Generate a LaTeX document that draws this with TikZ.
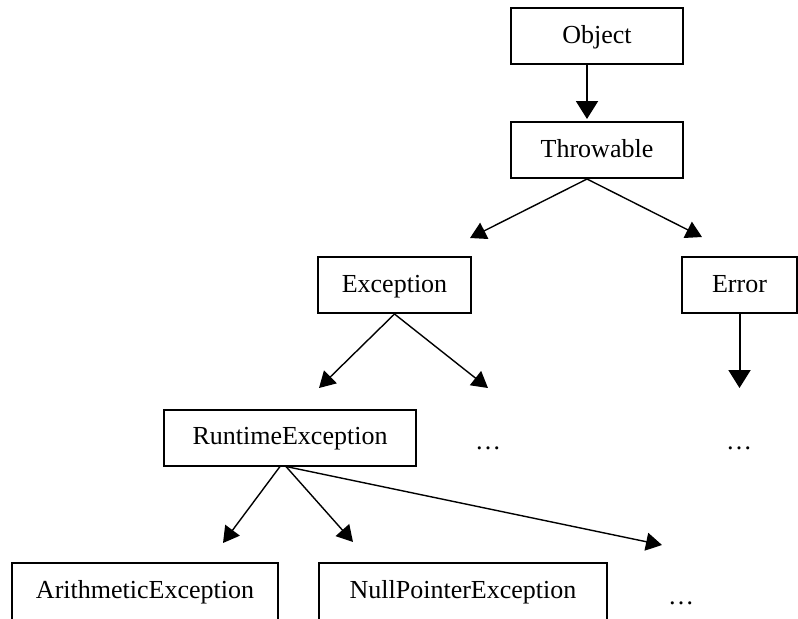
\documentclass[tikz,border=0pt]{standalone}
\usepackage{fontspec}
\setmainfont{Liberation Serif}
\usetikzlibrary{arrows.meta}

\tikzset{
  classbox/.style={draw, line width=1pt, inner xsep=0pt, inner ysep=0pt,
    text height=17.5pt, text depth=10.5pt, font=\fontsize{13}{15}\selectfont},
  cutbox/.style={classbox, anchor=north, text depth=40pt},
  etc/.style={anchor=base, font=\fontsize{13}{15}\selectfont},
  inherit/.style={-{Triangle[length=8pt,width=9pt]}, line width=0.7pt},
  inheritv/.style={-{Triangle[length=9pt,width=11pt]}, line width=1pt}
}

\begin{document}
\begin{tikzpicture}[x=0.5pt, y=-0.5pt]
  \useasboundingbox (0,0) rectangle (798,618);
  \clip (0,0) rectangle (798,618);

  % class boxes
  \node[classbox, minimum width=86pt] (obj) at (597,36) {Object};
  \node[classbox, minimum width=86pt] (thr) at (597,150) {Throwable};
  \node[classbox, minimum width=76.5pt] (exc) at (394.5,285) {Exception};
  \node[classbox, minimum width=57.5pt] (err) at (739.5,285) {Error};
  \node[classbox, minimum width=126pt] (rt) at (290,437.5) {RuntimeException};
  \node[cutbox, minimum width=133pt] (arith) at (145,562) {ArithmeticException};
  \node[cutbox, minimum width=144pt] (npe) at (463,562) {NullPointerException};

  % more subclasses
  \node[etc] (excEtc) at (488,449) {\ldots};
  \node[etc] (errEtc) at (739,449) {\ldots};
  \node[etc] (rtEtc) at (681,604) {\ldots};

  % arrow ends
  \coordinate (toExc) at (470,238);
  \coordinate (toErr) at (702,237);
  \coordinate (toRt) at (319,388);
  \coordinate (excMore) at (488,388);
  \coordinate (errMore) at (739,388);
  \coordinate (toArith) at (223,543);
  \coordinate (toNull) at (353,542);
  \coordinate (rtMore) at (662,545);

  \draw[inheritv, shorten >=1pt] ([xshift=-5pt]obj.south) -- ([xshift=-5pt]thr.north);
  \draw[inherit] ([xshift=-5pt]thr.south) -- (toExc);
  \draw[inherit] ([xshift=-5pt]thr.south) -- (toErr);
  \draw[inherit] (exc.south) -- (toRt);
  \draw[inherit] (exc.south) -- (excMore);
  \draw[inheritv] (err.south) -- (err.south |- errMore);
  \draw[inherit] ([xshift=-5pt]rt.south) -- (toArith);
  \draw[inherit] ([xshift=-2pt]rt.south) -- (toNull);
  \draw[inherit] ([xshift=-2pt]rt.south) -- (rtMore);
\end{tikzpicture}
\end{document}
